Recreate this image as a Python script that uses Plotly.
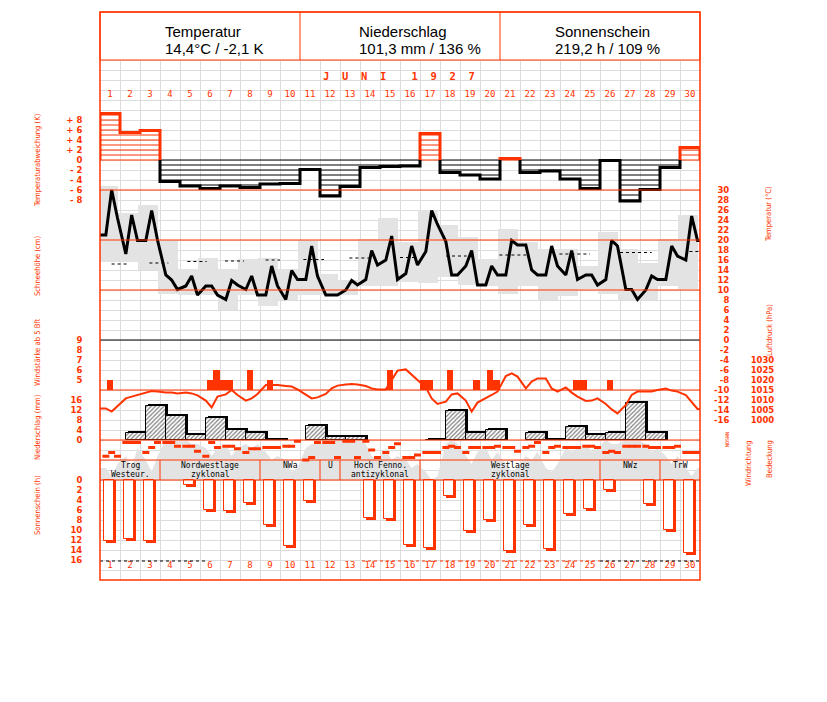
import plotly.graph_objects as go

# ---------------- data ----------------
days = list(range(1, 31))
obs_hours = [7, 14, 21]

# Temperaturabweichung (K), daily
temp_dev = [9.3, 5.5, 5.9, -4.3, -5.2, -5.7, -5.2, -5.5, -4.8, -4.7, -1.9, -7.2, -5.3, -1.5, -1.3,
            -1.2, 5.3, -2.5, -3.0, -3.8, 0.3, -2.5, -2.2, -3.8, -5.7, -0.1, -8.2, -5.9, -1.5, 2.5]

# Temperatur (°C) at 7, 14, 21 h
temp_obs = [21.0, 30.0, 24.4, 17.2, 25.0, 19.9, 19.9, 25.9, 20.0, 13.0, 12.0, 10.1,
            10.8, 12.8, 9.0, 10.8, 10.8, 9.0, 8.1, 11.9, 11.0, 10.1, 12.8, 9.0,
            9.0, 14.8, 10.8, 8.1, 13.9, 12.1, 12.1, 18.8, 12.8, 9.0, 9.0, 9.0,
            10.0, 11.9, 11.0, 12.1, 17.9, 15.0, 16.0, 20.8, 12.1, 13.3, 18.8, 15.0,
            17.7, 25.9, 23.1, 19.7, 13.0, 13.0, 14.8, 17.9, 11.0, 11.0, 14.8, 13.0,
            13.0, 19.9, 19.0, 19.0, 14.0, 13.0, 13.0, 18.8, 14.8, 13.0, 17.9, 12.1,
            13.0, 13.0, 11.0, 12.1, 19.9, 18.8, 10.1, 10.1, 8.1, 10.0, 12.8, 12.1,
            12.1, 18.8, 16.8, 16.0, 24.8, 19.9]

# daily extremes (grey boxes)
temp_max = [30.8, 25.5, 27.0, 19.8, 14.3, 16.5, 14.3, 16.3, 16.5, 14.3, 20.1, 13.3, 12.1, 20.3, 24.5,
            19.7, 26.0, 23.0, 20.7, 16.3, 22.3, 19.7, 18.3, 18.3, 14.8, 21.7, 18.3, 15.5, 20.3, 25.0]
temp_min = [15.7, 15.7, 14.0, 9.3, 9.0, 9.0, 6.1, 9.0, 6.8, 8.0, 9.0, 9.0, 9.0, 10.8, 10.8,
            11.7, 11.5, 12.7, 11.0, 10.8, 9.3, 10.8, 8.0, 8.8, 10.3, 9.3, 8.0, 8.0, 10.8, 10.3]

# normal temperature (dotted pieces)
norm_from = [1.08, 2.97, 4.87, 6.75, 8.78, 10.67, 12.97, 15.5, 17.8, 20.47, 23.47, 26.5, 29.97]
norm_to = [1.92, 3.92, 5.83, 7.7, 9.5, 11.7, 14.03, 16.25, 18.83, 21.8, 25.0, 28.08, 30.5]
norm_temp = [15.2, 15.4, 15.7, 15.8, 16.0, 16.1, 16.4, 16.5, 16.8, 17.0, 17.2, 17.5, 17.7]

# Windstärke ab 5 Bft (day, observation index 0..2, Bft)
wind_day = [1, 6, 6, 7, 7, 8, 9, 15, 17, 17, 18, 19, 20, 20, 24, 25, 26]
wind_obs = [1, 1, 2, 0, 1, 1, 1, 1, 0, 1, 1, 2, 1, 2, 2, 0, 1]
wind_bft = [5, 5, 6, 5, 5, 6, 5, 6, 5, 5, 6, 5, 6, 5, 5, 5, 5]

# Niederschlag (mm), measured 7h-7h
precip = [0, 2.9, 13.6, 9.6, 2.0, 8.8, 4.0, 2.9, 0.2, 0, 5.8, 1.1, 1.1, 0, 0,
          0, 0.2, 11.6, 2.9, 4.0, 0, 2.9, 0.2, 5.1, 2.0, 2.9, 14.8, 2.9, 0, 0]

# Luftdruck (hPa) at 7, 14, 21 h
pressure = [1005.8, 1004.2, 1007.0, 1010.8, 1011.7, 1012.5, 1013.7, 1014.5, 1014.2,
            1013.7, 1013.8, 1013.3, 1013.7, 1013.3, 1012.3, 1009.7, 1006.3, 1011.7,
            1012.8, 1015.0, 1012.5, 1009.7, 1010.8, 1013.0, 1017.5, 1017.5, 1017.5,
            1017.0, 1016.7, 1015.3, 1012.5, 1010.8, 1011.3, 1013.0, 1015.8, 1017.2,
            1017.8, 1018.0, 1017.8, 1017.0, 1015.8, 1015.3, 1015.3, 1020.0, 1024.7,
            1025.3, 1022.5, 1020.0, 1016.3, 1010.8, 1008.0, 1009.2, 1012.8, 1013.3,
            1009.7, 1004.2, 1008.7, 1010.8, 1012.5, 1014.2, 1022.0, 1023.3, 1021.7,
            1015.8, 1019.2, 1020.8, 1020.8, 1015.8, 1014.2, 1016.3, 1013.7, 1011.7,
            1009.5, 1009.7, 1010.8, 1008.0, 1005.3, 1003.3, 1007.5, 1012.5, 1014.2,
            1014.2, 1014.3, 1015.0, 1015.7, 1014.7, 1014.2, 1012.5, 1009.2, 1005.5]

# Bedeckung (tenths) at 7, 14, 21 h
cloud = [3, 1, 4, 6, 3, 8, 5, 2, 6, 10, 10, 10, 10, 9, 9, 8, 6, 8, 9, 6, 8, 9, 8, 9,
         7, 5, 6, 5, 2, 3, 8, 9, 9, 10, 10, 10, 10, 10, 10, 9, 6, 5, 8, 5, 6,
         5, 3, 4, 2, 0, 1, 9, 10, 9, 6, 4, 7, 8, 5, 7, 4, 2, 3, 6, 5, 7, 3, 2, 4,
         8, 7, 8, 9, 7, 8, 10, 9, 9, 10, 10, 10, 9, 7, 8, 6, 4, 6, 3, 1, 3]

# Windrichtung (degrees) at 7, 14, 21 h
wind_dir = [67.5, 135, 67.5, 315, 315, 315, 135, 225, 315, 315, 315, 247.5,
            247.5, 247.5, 157.5, 67.5, 315, 225, 247.5, 247.5, 202.5, 135, 202.5, 202.5,
            225, 225, 225, 247.5, 247.5, 337.5, 0, 45, 315, 315, 315, 45,
            337.5, 337.5, 45, 337.5, 180, 45, 135, 225, 292.5, 45, 45, 90,
            135, 135, 135, 225, 247.5, 225, 135, 225, 225, 225, 225, 247.5,
            225, 225, 157.5, 225, 247.5, 315, 135, 225, 247.5, 225, 225, 225,
            247.5, 247.5, 225, 135, 157.5, 135, 247.5, 247.5, 247.5, 247.5, 225, 225,
            225, 225, 247.5, 135, 135, 135]

# Sonnenschein (h)
sunshine = [12.2, 11.7, 12.2, 0, 1.0, 5.9, 6.1, 4.5, 8.9, 13.1, 4.1, 0, 0, 7.5, 7.7,
            12.9, 13.5, 3.1, 10.1, 8.0, 14.2, 9.0, 13.7, 6.7, 5.7, 1.9, 0, 4.7, 9.9, 14.5]
sun_line_from = [0.5, 13.6, 18.5, 25.5]
sun_line_to = [5.8, 18.5, 25.5, 30.5]
sun_line_col = ["black", "red", "red", "black"]
sun_line_level = 16.2

# Großwetterlagen
wt_start = [1, 4, 9, 12, 13, 17, 26, 29]
wt_end = [3, 8, 11, 12, 16, 25, 28, 30]
wt_line1 = ["Trog", "Nordwestlage", "NWa", "U", "Hoch Fenno.", "Westlage", "NWz", "TrW"]
wt_line2 = ["Westeur.", "zyklonal", "", "", "antizyklonal", "zyklonal", "", ""]

header_titles = ["Temperatur", "Niederschlag", "Sonnenschein"]
header_values = ["14,4°C / -2,1 K", "101,3 mm / 136 %", "219,2 h / 109 %"]

# ---------------- styling / geometry ----------------
RED = "#ff3300"
GRAY = "#e3e3e3"
GRID = "#dcdcdc"
MONO = "DejaVu Sans Mono, Liberation Mono, monospace"
TICKF = "DejaVu Sans, Verdana, sans-serif"
NARROW = "Liberation Sans Narrow, DejaVu Sans Condensed, Arial Narrow, sans-serif"
SANS = "Liberation Sans, Arial, sans-serif"

W, H = 827, 702
L, T, B = 100, 12, 580
PW = W - L
PH = B - T
XR = 700


def xp(px):
    return (px - L) / PW


def yp(py):
    return (B - py) / PH


def yrange(v0, p0, s):
    return [v0 - (B - p0) / s, v0 + (p0 - T) / s]


obs_x = [d - 0.5 + h / 24 for d in days for h in obs_hours]

fig = go.Figure()

# ---- Temperaturabweichung: hatch lines + outline (y2)
hx = {RED: [], "black": []}
hy = {RED: [], "black": []}
for d, v in zip(days, temp_dev):
    col = RED if v > 0 else "black"
    sgn = 1 if v > 0 else -1
    for k in range(int(abs(v)) + 1):
        hx[col] += [d - 0.5, d + 0.5, None]
        hy[col] += [sgn * k, sgn * k, None]
for col in (RED, "black"):
    fig.add_trace(go.Scatter(x=hx[col], y=hy[col], mode="lines", yaxis="y2",
                             line=dict(color=col, width=1), hoverinfo="skip"))

pts = [(0.5, 0.0)]
prev = 0.0
for d, v in zip(days, temp_dev):
    if prev * v < 0:
        pts.append((d - 0.5, 0.0))
    pts.append((d - 0.5, v))
    pts.append((d + 0.5, v))
    prev = v
pts.append((30.5, 0.0))
runs = []
for a, b in zip(pts[:-1], pts[1:]):
    col = RED if (a[1] + b[1]) > 0 else "black"
    if runs and runs[-1][0] == col:
        runs[-1][1].append(b)
    else:
        runs.append([col, [a, b]])
for col, seq in runs:
    fig.add_trace(go.Scatter(x=[p[0] for p in seq], y=[p[1] for p in seq], mode="lines",
                             yaxis="y2", line=dict(color=col, width=3), hoverinfo="skip"))

# ---- Temperatur (y3)
fig.add_trace(go.Bar(x=[d - 3 / 24 for d in days],
                     y=[mx - mn for mx, mn in zip(temp_max, temp_min)],
                     base=temp_min, width=1, yaxis="y3",
                     marker=dict(color=GRAY, line=dict(width=0)), hoverinfo="skip"))
nx, ny = [], []
for a, b, t in zip(norm_from, norm_to, norm_temp):
    nx += [a, b, None]
    ny += [t, t, None]
fig.add_trace(go.Scatter(x=nx, y=ny, mode="lines", yaxis="y3",
                         line=dict(color="black", width=1, dash="dot"), hoverinfo="skip"))
fig.add_trace(go.Scatter(x=[0.5] + obs_x + [30.5], y=[temp_obs[0]] + temp_obs + [temp_obs[-1]],
                         mode="lines", yaxis="y3", line=dict(color="black", width=3),
                         hoverinfo="skip"))

# ---- Wind (y5)
fig.add_trace(go.Bar(x=[d - 0.5 + (2 * j + 1) / 6 for d, j in zip(wind_day, wind_obs)],
                     y=[b - 4 for b in wind_bft], base=4, width=1 / 3, yaxis="y5",
                     marker=dict(color=RED, line=dict(width=0)), hoverinfo="skip"))

# ---- Niederschlag (y6)
p_x = [d + 7 / 24 for d in days]
fig.add_trace(go.Bar(x=[x + 0.1 for x in p_x], y=[p + 0.8 if p > 0 else None for p in precip],
                     width=1, yaxis="y6", marker=dict(color="black", line=dict(width=0)),
                     hoverinfo="skip"))
fig.add_trace(go.Bar(x=p_x, y=[p if p > 0 else None for p in precip], width=1, yaxis="y6",
                     marker=dict(color="white", line=dict(color="black", width=1),
                                 pattern=dict(shape="/", fgcolor="black", bgcolor="white",
                                              size=3, solidity=0.4)),
                     hoverinfo="skip"))

# ---- Luftdruck (y7)
fig.add_trace(go.Scatter(x=[0.5] + obs_x + [30.5], y=[pressure[0]] + pressure + [pressure[-1]],
                         mode="lines", yaxis="y7", line=dict(color=RED, width=2),
                         hoverinfo="skip"))

# ---- Bedeckung (y8)
fig.add_trace(go.Scatter(x=[0.5] + obs_x + [30.5], y=[cloud[0]] + cloud + [cloud[-1]],
                         mode="lines", fill="tozeroy", fillcolor=GRAY, yaxis="y8",
                         line=dict(width=0, color=GRAY), hoverinfo="skip"))

# ---- Sonnenschein (y9)
s_x = [d - 0.05 for d in days]
fig.add_trace(go.Bar(x=[x + 0.12 for x in s_x], y=[s + 0.45 if s > 0 else None for s in sunshine],
                     width=0.5, yaxis="y9", marker=dict(color=RED, line=dict(width=0)),
                     hoverinfo="skip"))
fig.add_trace(go.Bar(x=s_x, y=[s if s > 0 else None for s in sunshine], width=0.5, yaxis="y9",
                     marker=dict(color="white", line=dict(color=RED, width=1)),
                     hoverinfo="skip"))
for a, b, c in zip(sun_line_from, sun_line_to, sun_line_col):
    fig.add_trace(go.Scatter(x=[a, b], y=[sun_line_level, sun_line_level], mode="lines",
                             yaxis="y9", line=dict(color=RED if c == "red" else "black",
                                                   width=1.2, dash="dot"),
                             hoverinfo="skip"))

# ---- Windrichtung (y10)
fig.add_trace(go.Scatter(x=obs_x, y=wind_dir, mode="markers", yaxis="y10",
                         marker=dict(symbol="line-ew", size=5,
                                     line=dict(width=3, color=RED)),
                         hoverinfo="skip"))

# ---- day numbers (pixel axis y)
for yy in (95, 566):
    fig.add_trace(go.Scatter(x=days, y=[yy] * len(days), mode="text",
                             text=[str(d) for d in days], yaxis="y",
                             textfont=dict(family=MONO, size=9, color=RED),
                             textposition="middle center", hoverinfo="skip"))

TICKFONT = dict(family=TICKF, size=8.5, color=RED, weight="bold")


def left_axis(rng, vals, texts):
    return dict(overlaying="y", anchor="free", position=0, side="left", range=rng,
                tickvals=vals, ticktext=texts, showgrid=False, zeroline=False,
                showline=False, ticks="outside", ticklen=16, tickcolor="rgba(0,0,0,0)",
                tickfont=TICKFONT, automargin=False, fixedrange=True)


def right_axis(rng, vals, texts, px):
    return dict(overlaying="y", anchor="free", position=xp(px), side="left", range=rng,
                tickvals=vals, ticktext=texts, showgrid=False, zeroline=False,
                showline=False, ticks="outside", ticklen=2, tickcolor="rgba(0,0,0,0)",
                tickfont=TICKFONT, automargin=False, fixedrange=True)


def hidden_axis(rng):
    return dict(overlaying="y", anchor="x", range=rng, visible=False, fixedrange=True)


dev_ticks = list(range(-8, 9, 2))
temp_ticks = list(range(-16, 31, 2))
snow_ticks = list(range(0, 11, 2))
bft_ticks = list(range(5, 10))
prec_ticks = [0, 4, 8, 12, 16]
pres_ticks = list(range(1000, 1031, 5))
sun_ticks = list(range(0, 17, 2))

layout = dict(
    width=W, height=H, margin=dict(l=L, r=0, t=T, b=H - B, pad=0),
    paper_bgcolor="white", plot_bgcolor="white", showlegend=False, barmode="overlay",
    bargap=0,
    xaxis=dict(domain=[0, (XR - L) / PW], range=[0.5, 30.5],
               tickvals=[i + 0.5 for i in range(31)], showgrid=True, gridcolor=GRID,
               gridwidth=1, showticklabels=False, ticks="", zeroline=False,
               showline=False, anchor="y", fixedrange=True),
    yaxis=dict(domain=[0, 1], range=[B, T], tickvals=list(range(60, B + 1, 10)),
               showgrid=True, gridcolor=GRID, gridwidth=1, showticklabels=False,
               ticks="", zeroline=False, showline=False, anchor="x", fixedrange=True),
    yaxis2=left_axis(yrange(0, 160, 5), dev_ticks,
                     [("+ " if v > 0 else ("- " if v < 0 else "")) + str(abs(v)) for v in dev_ticks]),
    yaxis3=right_axis(yrange(0, 340, 5), temp_ticks, [str(v) for v in temp_ticks], 733),
    yaxis4=left_axis(yrange(0, 290, 5), snow_ticks, [str(v) for v in snow_ticks]),
    yaxis5=left_axis(yrange(5, 380, 10), bft_ticks, [str(v) for v in bft_ticks]),
    yaxis6=left_axis(yrange(0, 440, 2.5), prec_ticks, [str(v) for v in prec_ticks]),
    yaxis7=right_axis(yrange(1000, 420, 2), pres_ticks, [str(v) for v in pres_ticks], 778),
    yaxis8=hidden_axis(yrange(0, 480, 4)),
    yaxis9=left_axis(yrange(0, 480, -5), sun_ticks, [str(v) for v in sun_ticks]),
    yaxis10=hidden_axis(yrange(0, 460, 1 / 18)),
)
fig.update_layout(**layout)

# ---------------- frame, panel lines ----------------
shapes = []


def hline(py, color=RED, width=1):
    shapes.append(dict(type="line", xref="paper", yref="paper", x0=xp(L), x1=xp(XR),
                       y0=yp(py), y1=yp(py), line=dict(color=color, width=width),
                       layer="above"))


# header box
shapes.append(dict(type="rect", xref="paper", yref="paper", x0=xp(L), x1=xp(XR),
                   y0=yp(60), y1=yp(T), fillcolor="white", line=dict(color=RED, width=1),
                   layer="above"))
for px in (300, 500):
    shapes.append(dict(type="line", xref="paper", yref="paper", x0=xp(px), x1=xp(px),
                       y0=yp(60), y1=yp(T), line=dict(color=RED, width=1), layer="above"))
for py in (190, 240, 290, 390, 440, 460, 480):
    hline(py)
# 0 °C line
shapes.append(dict(type="line", xref="x", yref="y3", x0=0.5, x1=30.5, y0=0, y1=0,
                   line=dict(color="black", width=1), layer="above"))
# weather-type cell borders
for s in wt_start[1:]:
    shapes.append(dict(type="line", xref="x", yref="paper", x0=s - 0.5, x1=s - 0.5,
                       y0=yp(480), y1=yp(460), line=dict(color=RED, width=1), layer="above"))
# outer frame
shapes.append(dict(type="rect", xref="paper", yref="paper", x0=xp(L), x1=xp(XR),
                   y0=yp(B), y1=yp(T), line=dict(color=RED, width=1.5), layer="above"))
fig.update_layout(shapes=shapes)

# ---------------- text ----------------
ann = []
for i, (t1, t2) in enumerate(zip(header_titles, header_values)):
    x0 = [163, 357, 553][i]
    ann.append(dict(text=t1, x=xp(x0), y=yp(31), xref="paper", yref="paper",
                    xanchor="left", yanchor="middle", showarrow=False,
                    font=dict(family=SANS, size=15, color="black")))
    ann.append(dict(text=t2, x=xp(x0), y=yp(48), xref="paper", yref="paper",
                    xanchor="left", yanchor="middle", showarrow=False,
                    font=dict(family=SANS, size=15, color="black")))
ann.append(dict(text="J  U  N  I    1  9  2  7", x=xp(399), y=yp(75.5), xref="paper",
                yref="paper", xanchor="center", yanchor="middle", showarrow=False,
                font=dict(family=MONO, size=10.5, color=RED, weight="bold")))

TITLEFONT = dict(family=NARROW, size=7.6, color=RED)
left_titles = [("Temperaturabweichung (K)", 160), ("Schneehöhe (cm)", 266),
               ("Windstärke ab 5 Bft", 352), ("Niederschlag (mm)", 427),
               ("Sonnenschein (h)", 505)]
for txt, py in left_titles:
    ann.append(dict(text=txt, x=xp(37), y=yp(py), xref="paper", yref="paper",
                    xanchor="center", yanchor="middle", textangle=-90, showarrow=False,
                    font=TITLEFONT))
right_titles = [("Temperatur (°C)", 769, 214), ("Luftdruck (hPa)", 769, 330),
                ("Windrichtung", 748, 463), ("Bedeckung", 769, 459)]
for txt, px, py in right_titles:
    ann.append(dict(text=txt, x=xp(px), y=yp(py), xref="paper", yref="paper",
                    xanchor="center", yanchor="middle", textangle=-90, showarrow=False,
                    font=TITLEFONT))
ann.append(dict(text="NOSWN", x=xp(727), y=yp(440), xref="paper", yref="paper",
                xanchor="center", yanchor="middle", textangle=-90, showarrow=False,
                font=dict(family=MONO, size=5, color=RED)))

for s, e, l1, l2 in zip(wt_start, wt_end, wt_line1, wt_line2):
    xc = (s + e) / 2
    ann.append(dict(text=l1, x=xc, y=yp(465), xref="x", yref="paper", xanchor="center",
                    yanchor="middle", showarrow=False,
                    font=dict(family=MONO, size=8, color="black")))
    if l2:
        ann.append(dict(text=l2, x=xc, y=yp(474.5), xref="x", yref="paper", xanchor="center",
                        yanchor="middle", showarrow=False,
                        font=dict(family=MONO, size=8, color="black")))
fig.update_layout(annotations=ann)

fig.write_html("out.html", config={"displayModeBar": False},
               post_script="document.body.style.margin='0px';")
